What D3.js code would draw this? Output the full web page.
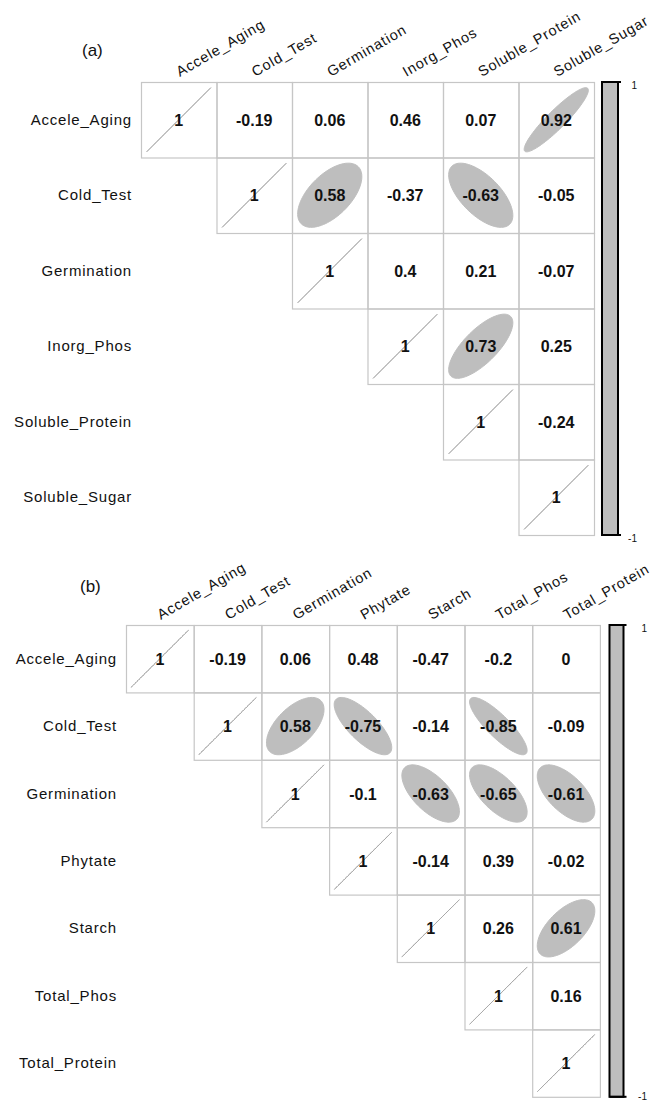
<!DOCTYPE html>
<html>
<head>
<meta charset="utf-8">
<script src="https://cdn.jsdelivr.net/npm/d3@7"></script>
<style>
  body { margin: 0; background: #fff; }
  svg { display: block; }
</style>
</head>
<body>
<svg id="chart" width="651" height="1102"></svg>
<script>
// ---- data: upper-triangle correlation matrices (row i holds columns i..n-1) ----
const varsA = ["Accele_Aging", "Cold_Test", "Germination", "Inorg_Phos", "Soluble_Protein", "Soluble_Sugar"];
const corrA = [
  [1, -0.19, 0.06, 0.46, 0.07, 0.92],
  [1, 0.58, -0.37, -0.63, -0.05],
  [1, 0.4, 0.21, -0.07],
  [1, 0.73, 0.25],
  [1, -0.24],
  [1]
];

const varsB = ["Accele_Aging", "Cold_Test", "Germination", "Phytate", "Starch", "Total_Phos", "Total_Protein"];
const corrB = [
  [1, -0.19, 0.06, 0.48, -0.47, -0.2, 0],
  [1, 0.58, -0.75, -0.14, -0.85, -0.09],
  [1, -0.1, -0.63, -0.65, -0.61],
  [1, -0.14, 0.39, -0.02],
  [1, 0.26, 0.61],
  [1, 0.16],
  [1]
];

const panelLabels = ["(a)", "(b)"];
const legendTicks = [-1, 1];
const ellipseMinAbs = 0.5;   // ellipses are shown for |r| >= this (and the diagonal)

// ---- styling ----
const FONT = "'Liberation Sans', Arial, sans-serif";
const GRID = "#c6c6c6";
const FILL = "#bebebe";

const svg = d3.select("#chart");

// ellipse outline of a correlation (corrplot style), unit cell coordinates
function ellipsePoints(rho) {
  const d = Math.acos(Math.max(-1, Math.min(1, rho)));
  return d3.range(99).map(i => {
    const k = i * 2 * Math.PI / 98;
    return [0.85 * Math.cos(k + d / 2) / 2, 0.85 * Math.cos(k - d / 2) / 2];
  });
}

function drawPanel(cfg) {
  const { vars, corr, x0, y0, cw, ch, label, labelPos, bar } = cfg;
  const n = vars.length;
  const g = svg.append("g");

  const xBand = d3.scaleBand().domain(vars).range([x0, x0 + n * cw]);
  const yBand = d3.scaleBand().domain(vars).range([y0, y0 + n * ch]);

  // flatten upper triangle
  const cells = [];
  corr.forEach((row, i) => row.forEach((v, j) => {
    cells.push({ r: vars[i], c: vars[i + j], v, diag: j === 0 });
  }));

  // grid
  g.append("g").selectAll("rect").data(cells).join("rect")
    .attr("x", d => xBand(d.c) + 0.5)
    .attr("y", d => yBand(d.r) + 0.5)
    .attr("width", xBand.bandwidth())
    .attr("height", yBand.bandwidth())
    .attr("fill", "none")
    .attr("stroke", GRID)
    .attr("stroke-width", 1.2);

  // ellipses
  const shown = cells.filter(d => d.diag || Math.abs(d.v) >= ellipseMinAbs);
  g.append("g").selectAll("path").data(shown).join("path")
    .attr("d", d => {
      const cx = xBand(d.c) + xBand.bandwidth() / 2;
      const cy = yBand(d.r) + yBand.bandwidth() / 2;
      const sx = d3.scaleLinear().domain([-0.5, 0.5]).range([cx - cw / 2, cx + cw / 2]);
      const sy = d3.scaleLinear().domain([-0.5, 0.5]).range([cy + ch / 2, cy - ch / 2]);
      return d3.line().x(p => sx(p[0])).y(p => sy(p[1])).curve(d3.curveLinearClosed)(ellipsePoints(d.v));
    })
    .attr("fill", d => d.diag ? "none" : FILL)
    .attr("stroke", d => d.diag ? "#a6a6a6" : FILL)
    .attr("stroke-width", d => d.diag ? 0.9 : 1);

  // coefficients
  g.append("g").selectAll("text").data(cells).join("text")
    .attr("x", d => xBand(d.c) + xBand.bandwidth() / 2)
    .attr("y", d => yBand(d.r) + yBand.bandwidth() / 2 + 6)
    .attr("text-anchor", "middle")
    .attr("font-family", FONT)
    .attr("font-weight", "bold")
    .attr("font-size", 16)
    .attr("fill", "#111")
    .text(d => String(d.v));

  // row labels
  g.append("g").selectAll("text").data(vars).join("text")
    .attr("x", x0 - 9)
    .attr("y", d => yBand(d) + yBand.bandwidth() / 2 + 5)
    .attr("text-anchor", "end")
    .attr("font-family", FONT)
    .attr("font-size", 15)
    .attr("letter-spacing", 0.8)
    .attr("fill", "#111")
    .text(d => d);

  // column labels
  g.append("g").selectAll("text").data(vars).join("text")
    .attr("transform", d => `translate(${xBand(d) + xBand.bandwidth() / 2 + 1},${y0 - 5}) rotate(-30)`)
    .attr("font-family", FONT)
    .attr("font-size", 14.5)
    .attr("letter-spacing", 0.9)
    .attr("fill", "#111")
    .text(d => d);

  // panel tag
  g.append("text")
    .attr("x", labelPos[0]).attr("y", labelPos[1])
    .attr("font-family", FONT)
    .attr("font-size", 17)
    .attr("fill", "#111")
    .text(label);

  // colour legend bar
  const yBar = d3.scaleLinear().domain([-1, 1]).range([y0 + n * ch, y0]);
  const lg = g.append("g");
  lg.append("rect")
    .attr("x", bar.x).attr("y", yBar(1))
    .attr("width", bar.w).attr("height", yBar(-1) - yBar(1))
    .attr("fill", FILL)
    .attr("stroke", "#000")
    .attr("stroke-width", 2);
  lg.selectAll("line.tick").data(legendTicks).join("line")
    .attr("class", "tick")
    .attr("x1", bar.x).attr("x2", bar.x + bar.w + 3)
    .attr("y1", d => yBar(d)).attr("y2", d => yBar(d))
    .attr("stroke", "#000").attr("stroke-width", 2);
  lg.selectAll("text").data(legendTicks).join("text")
    .attr("x", bar.labelX)
    .attr("y", d => Math.min(yBar(d) + 7, bar.maxY))
    .attr("text-anchor", "end")
    .attr("font-family", FONT)
    .attr("font-size", 10)
    .attr("fill", "#111")
    .text(d => String(d));
}

drawPanel({
  vars: varsA, corr: corrA, x0: 141, y0: 82, cw: 75.5, ch: 75.5,
  label: panelLabels[0], labelPos: [82, 56],
  bar: { x: 602, w: 16, labelX: 637, maxY: 1100 }
});

drawPanel({
  vars: varsB, corr: corrB, x0: 126, y0: 625, cw: 67.7, ch: 67.4,
  label: panelLabels[1], labelPos: [80, 592],
  bar: { x: 609.5, w: 14, labelX: 647, maxY: 1100 }
});
</script>
</body>
</html>
